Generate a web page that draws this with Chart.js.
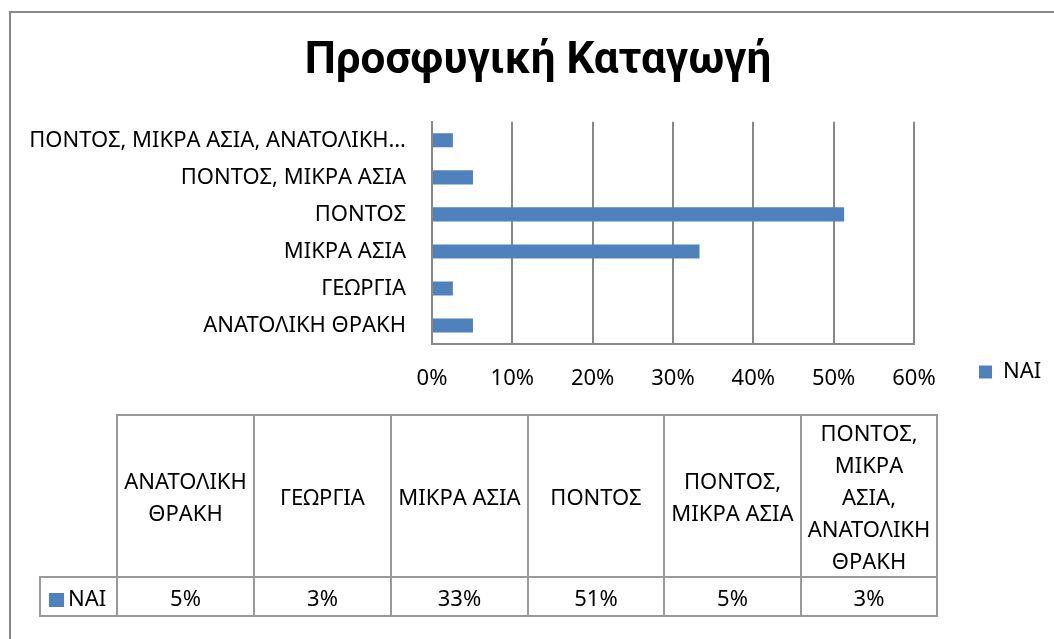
<!DOCTYPE html>
<html><head><meta charset="utf-8">
<script src="https://cdn.jsdelivr.net/npm/chart.js@4.4.0/dist/chart.umd.min.js"></script>
<style>
html,body{margin:0;padding:0;background:#fff;overflow:hidden;width:1054px;height:639px;}
#frame{position:absolute;left:9px;top:11px;width:1100px;height:700px;border-left:2px solid #888;border-top:2px solid #888;}
#wrap{position:absolute;left:0;top:0;width:1054px;height:448px;}
#tbl{position:absolute;left:39px;top:414px;border-collapse:collapse;table-layout:fixed;font-family:'Noto Sans',sans-serif;font-size:22px;color:#000;z-index:2;background:transparent;}
#tbl td{border:2px solid #999;text-align:center;vertical-align:middle;padding:0 1px;line-height:32px;background:#fff;}
#tbl td.blank{border-top:none;border-left:none;background:transparent;}
#tbl tr.hdr td{height:159px;}
#tbl tr.val td{height:37px;line-height:26px;}
#tbl td.lg{text-align:left;padding-left:8px;white-space:nowrap;}
.sw{display:inline-block;width:15px;height:14px;background:#4F81BD;vertical-align:-1px;margin-right:4px;}
</style></head>
<body>
<div id="frame"></div>
<div id="wrap"><canvas id="c" width="1054" height="448"></canvas></div>
<table id="tbl"></table>
<script>
const chartTitle = 'Προσφυγική Καταγωγή';
const seriesName = 'ΝΑΙ';
const categories = ['ΑΝΑΤΟΛΙΚΗ ΘΡΑΚΗ','ΓΕΩΡΓΙΑ','ΜΙΚΡΑ ΑΣΙΑ','ΠΟΝΤΟΣ','ΠΟΝΤΟΣ, ΜΙΚΡΑ ΑΣΙΑ','ΠΟΝΤΟΣ, ΜΙΚΡΑ ΑΣΙΑ, ΑΝΑΤΟΛΙΚΗ ΘΡΑΚΗ'];
const axisLabels = ['ΑΝΑΤΟΛΙΚΗ ΘΡΑΚΗ','ΓΕΩΡΓΙΑ','ΜΙΚΡΑ ΑΣΙΑ','ΠΟΝΤΟΣ','ΠΟΝΤΟΣ, ΜΙΚΡΑ ΑΣΙΑ','ΠΟΝΤΟΣ, ΜΙΚΡΑ ΑΣΙΑ, ΑΝΑΤΟΛΙΚΗ…'];
const tableHeaderLines = [['ΑΝΑΤΟΛΙΚΗ','ΘΡΑΚΗ'],['ΓΕΩΡΓΙΑ'],['ΜΙΚΡΑ ΑΣΙΑ'],['ΠΟΝΤΟΣ'],['ΠΟΝΤΟΣ,','ΜΙΚΡΑ ΑΣΙΑ'],['ΠΟΝΤΟΣ,','ΜΙΚΡΑ','ΑΣΙΑ,','ΑΝΑΤΟΛΙΚΗ','ΘΡΑΚΗ']];
const naiValues = [5.1, 2.6, 33.3, 51.3, 5.1, 2.6];
const tableValues = ['5%','3%','33%','51%','5%','3%'];
const xTicks = [0,10,20,30,40,50,60];

const FONT = "'Noto Sans', sans-serif";
const BLUE = '#4F81BD';
const GRID = '#888888';

new Chart(document.getElementById('c'), {
  type: 'bar',
  data: {
    labels: axisLabels,
    datasets: [{ label: seriesName, data: naiValues, backgroundColor: BLUE, barPercentage: 0.38, categoryPercentage: 1 }]
  },
  options: {
    indexAxis: 'y',
    responsive: false,
    animation: false,
    events: [],
    layout: { padding: { left: 26, right: 4, top: 0, bottom: 0 } },
    plugins: {
      legend: {
        display: true, position: 'right', align: 'end', maxWidth: 136,
        labels: { boxWidth: 13, boxHeight: 13, padding: 65, color: '#000', font: { family: FONT, size: 22 } }
      },
      tooltip: { enabled: false },
      title: { display: true, text: chartTitle, color: '#000', font: { family: "Roboto, 'Noto Sans', sans-serif", size: 44, weight: 'bold', lineHeight: 1.2 }, padding: { top: 36, bottom: 33 } }
    },
    scales: {
      x: {
        min: 0, max: 60,
        afterBuildTicks: s => { s.ticks = xTicks.map(v => ({ value: v })); },
        ticks: { callback: v => v + '%', color: '#000', font: { family: FONT, size: 22 }, padding: 22, maxRotation: 0 },
        grid: { color: GRID, lineWidth: 2, drawTicks: false },
        border: { color: GRID, width: 2 },
        afterFit: s => { s.height = 104; }
      },
      y: {
        reverse: true,
        ticks: { color: '#000', font: { family: FONT, size: 22 }, padding: 26 },
        grid: { display: false, drawTicks: false },
        border: { color: GRID, width: 2 },
        afterFit: s => { s.width = 432 - 26; }
      }
    }
  }
});

const colW = [77,137,137,137,136,137,136];
let html = '<colgroup>' + colW.map(w => '<col style="width:' + w + 'px">').join('') + '</colgroup>';
html += '<tr class="hdr"><td class="blank"></td>' + tableHeaderLines.map(l => '<td>' + l.join('<br>') + '</td>').join('') + '</tr>';
html += '<tr class="val"><td class="lg"><span class="sw"></span>' + seriesName + '</td>' + tableValues.map(v => '<td>' + v + '</td>').join('') + '</tr>';
document.getElementById('tbl').innerHTML = html;
</script>
</body></html>
